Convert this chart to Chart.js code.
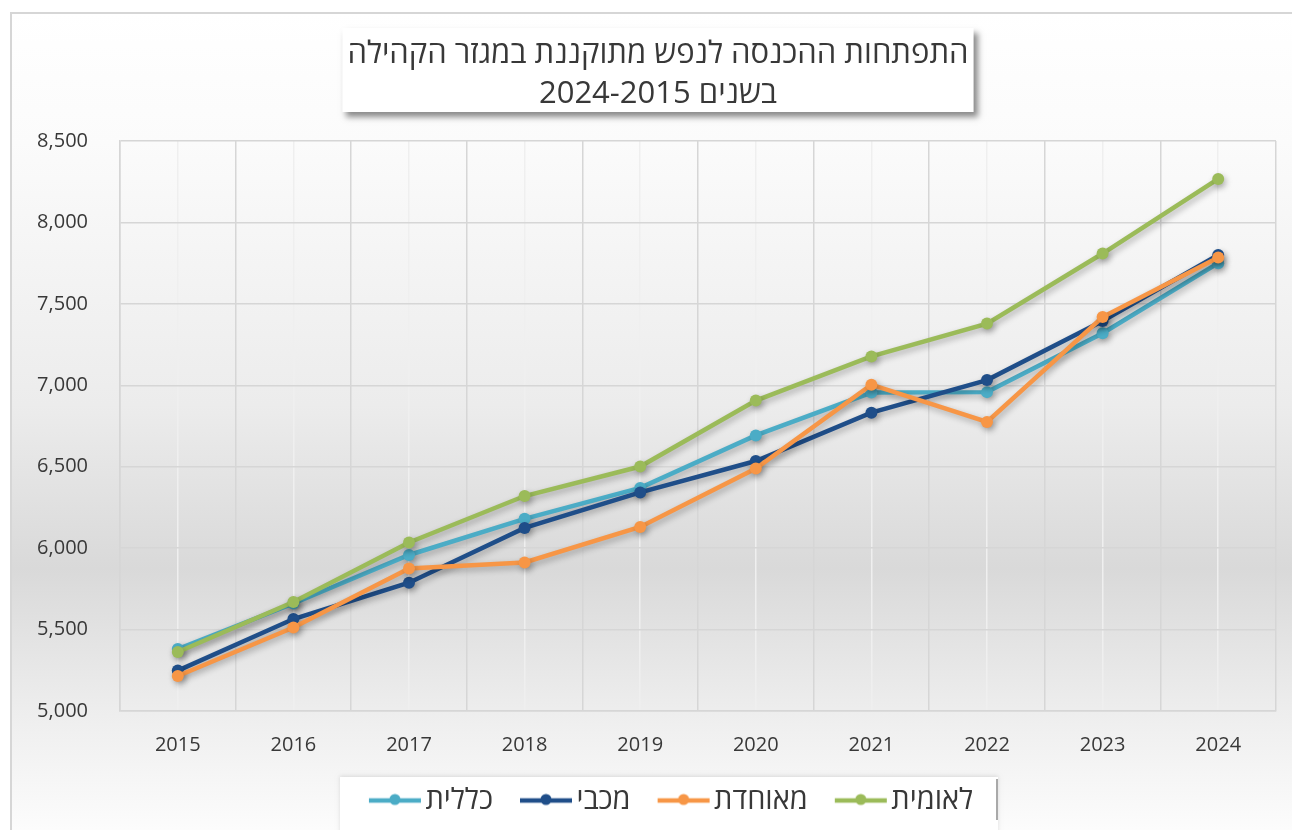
<!DOCTYPE html>
<html><head><meta charset="utf-8">
<script src="https://cdn.jsdelivr.net/npm/chart.js@4.4.1/dist/chart.umd.min.js"></script>
<style>html,body{margin:0;padding:0;background:#fff;overflow:hidden}#wrap{width:1292px;height:830px;position:relative}</style>
</head><body>
<div id="wrap"><canvas id="c" dir="rtl" width="1292" height="830"></canvas></div>
<script>
// ---- data ----
const years = ['2015','2016','2017','2018','2019','2020','2021','2022','2023','2024'];
const seriesNames = ['כללית','מכבי','מאוחדת','לאומית'];
const clalit   = [5380, 5660, 5958, 6180, 6370, 6692, 6955, 6958, 7320, 7750];
const maccabi  = [5248, 5565, 5788, 6124, 6342, 6535, 6832, 7032, 7395, 7800];
const meuhedet = [5215, 5513, 5875, 5912, 6130, 6489, 7004, 6775, 7419, 7785];
const leumit   = [5362, 5669, 6035, 6320, 6501, 6906, 7177, 7379, 7809, 8267];
const yMin = 5000, yMax = 8500, yStep = 500;
const titleLines = ['התפתחות ההכנסה לנפש מתוקננת במגזר הקהילה', 'בשנים 2024-2015'];

const colors = ['#4BACC6', '#1F4E89', '#F79646', '#9BBB59'];
const FONT = '"Open Sans", "Liberation Sans", "DejaVu Sans", sans-serif';
const TITLE_SIZE = 31, LEGEND_SIZE = 29, TICK_SIZE = 20;

function makeMarker(color) {
  const cv = document.createElement('canvas');
  cv.width = 64; cv.height = 16;
  const g = cv.getContext('2d');
  g.strokeStyle = color; g.lineWidth = 4.5; g.lineCap = 'butt';
  g.beginPath(); g.moveTo(10, 8); g.lineTo(62, 8); g.stroke();
  g.fillStyle = color;
  g.beginPath(); g.arc(36, 7, 5.5, 0, Math.PI * 2); g.fill();
  return cv;
}
const markers = colors.map(makeMarker);

const TITLE_DX = 14, LEGEND_CENTER = 671, LEGEND_DY = 0;

const decor = {
  id: 'decor',
  afterLayout(chart) {
    const t = chart.titleBlock;
    t.left += TITLE_DX; t.right += TITLE_DX;
    const l = chart.legend;
    const pad = l.options.labels.padding;
    const lw = l.lineWidths ? l.lineWidths[0] : 0;
    const x0 = (l.left + pad + l.right - lw) / 2;
    const center = x0 + (lw - pad - 2) / 2;
    const dx = LEGEND_CENTER - center;
    l.left += dx; l.right += dx;
    l.top += LEGEND_DY; l.bottom += LEGEND_DY;
  },
  beforeDraw(chart) {
    const ctx = chart.ctx;
    const W = chart.width, H = chart.height;
    ctx.save();
    ctx.fillStyle = '#ffffff';
    ctx.fillRect(0, 0, W, H);
    const grad = ctx.createLinearGradient(0, 12, 0, H);
    grad.addColorStop(0, '#ffffff');
    grad.addColorStop(0.16, '#fbfbfb');
    grad.addColorStop(0.48, '#ececec');
    grad.addColorStop(0.68, '#d9d9d9');
    grad.addColorStop(0.86, '#eeeeee');
    grad.addColorStop(1, '#fcfcfc');
    ctx.fillStyle = grad;
    ctx.fillRect(10, 12, W - 10, H - 12);
    ctx.strokeStyle = '#d6d6d6';
    ctx.lineWidth = 2;
    ctx.beginPath();
    ctx.moveTo(11, H); ctx.lineTo(11, 13); ctx.lineTo(W, 13);
    ctx.stroke();

    // title box with shadow
    const t = chart.titleBlock;
    ctx.font = TITLE_SIZE + 'px ' + FONT;
    const tw = Math.max(...titleLines.map(s => ctx.measureText(s).width));
    const cx = (t.left + t.right) / 2;
    const bx = cx - tw / 2 - 5, bw = tw + 10;
    const by = t.top + 28, bh = 84;
    ctx.save();
    ctx.shadowColor = 'rgba(0,0,0,0.45)';
    ctx.shadowBlur = 6; ctx.shadowOffsetX = 4; ctx.shadowOffsetY = 5;
    ctx.fillStyle = '#ffffff';
    ctx.fillRect(bx, by, bw, bh);
    ctx.restore();

    // legend box
    ctx.save();
    ctx.shadowColor = 'rgba(0,0,0,0.12)';
    ctx.shadowBlur = 4; ctx.shadowOffsetY = -1;
    ctx.fillStyle = '#ffffff';
    ctx.fillRect(340, 777, 658, H - 777 + 10);
    ctx.restore();
    ctx.strokeStyle = '#8c8c8c'; ctx.lineWidth = 1.5;
    ctx.beginPath(); ctx.moveTo(997, 779); ctx.lineTo(997, 820); ctx.stroke();
    ctx.restore();
  }
};

const shadow = {
  id: 'lineShadow',
  beforeDatasetDraw(chart) {
    const c = chart.ctx; c.save();
    c.shadowColor = 'rgba(0,0,0,0.28)';
    c.shadowBlur = 6; c.shadowOffsetX = 2; c.shadowOffsetY = 3;
  },
  afterDatasetDraw(chart) { chart.ctx.restore(); }
};

const seriesData = [clalit, maccabi, meuhedet, leumit];
const datasets = seriesNames.map((name, i) => ({
  label: name,
  data: seriesData[i],
  borderColor: colors[i],
  backgroundColor: colors[i],
  pointBackgroundColor: colors[i],
  pointBorderColor: colors[i],
  borderWidth: 4.5,
  pointRadius: 6,
  pointBorderWidth: 0,
  tension: 0,
  clip: false,
  order: seriesNames.length - i
}));

new Chart(document.getElementById('c'), {
  type: 'line',
  data: { labels: years, datasets },
  plugins: [decor, shadow],
  options: {
    responsive: false,
    animation: false,
    devicePixelRatio: 1,
    layout: { padding: { left: 12, right: 16, top: 0, bottom: 5 } },
    plugins: {
      tooltip: { enabled: false },
      title: {
        display: true,
        text: titleLines,
        color: '#383838',
        font: { family: FONT, size: TITLE_SIZE, weight: 'normal', lineHeight: 40 / TITLE_SIZE },
        padding: { top: 34, bottom: 27 }
      },
      legend: {
        display: true,
        position: 'bottom',
        labels: {
          color: '#383838',
          font: { family: FONT, size: LEGEND_SIZE },
          usePointStyle: true,
          pointStyleWidth: 40,
          boxHeight: 16,
          padding: 29,
          sort: (a, b) => a.datasetIndex - b.datasetIndex,
          generateLabels: (chart) => {
            const items = Chart.defaults.plugins.legend.labels.generateLabels(chart);
            items.forEach(it => { it.pointStyle = markers[it.datasetIndex]; });
            return items;
          }
        }
      }
    },
    scales: {
      x: {
        type: 'category',
        offset: true,
        grid: { offset: true, color: '#d6d6d6', lineWidth: 1.5, drawTicks: false },
        border: { display: true, color: '#d6d6d6', width: 1.5 },
        ticks: { color: '#383838', font: { family: FONT, size: TICK_SIZE }, padding: 22, maxRotation: 0 },
        afterFit: (s) => { s.height = 46; }
      },
      x2: {
        type: 'category',
        position: 'bottom',
        offset: true,
        grid: { offset: false, color: '#efefef', lineWidth: 1.5, drawTicks: false },
        border: { display: false },
        ticks: { display: false },
        afterFit: (s) => { s.height = 0; }
      },
      y: {
        min: yMin, max: yMax,
        grid: { color: '#d6d6d6', lineWidth: 1.5, drawTicks: false },
        border: { display: true, color: '#d6d6d6', width: 1.5 },
        ticks: {
          stepSize: yStep,
          color: '#383838',
          font: { family: FONT, size: TICK_SIZE },
          padding: 32,
          callback: (v) => Number(v).toLocaleString('en-US')
        },
        afterFit: (s) => { s.width = 108; }
      }
    }
  }
});
</script>
</body></html>
